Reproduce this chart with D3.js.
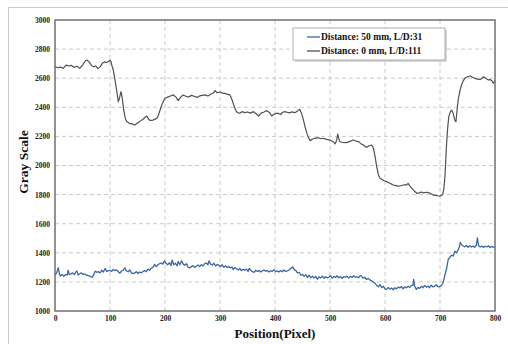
<!DOCTYPE html>
<html><head><meta charset="utf-8">
<script src="https://cdn.jsdelivr.net/npm/d3@7"></script>
<style>body{margin:0;background:#fff}svg{display:block}</style>
</head><body>
<svg id="c" width="508" height="344"></svg>
<script>
const xTicks=[0,100,200,300,400,500,600,700,800];
const yTicks=[1000,1200,1400,1600,1800,2000,2200,2400,2600,2800,3000];
const seriesNames=["Distance: 50 mm, L/D:31","Distance: 0 mm, L/D:111"];
const grayX=[0,5,10,15,20,25,30,35,40,45,50,55,58,62,66,70,74,78,82,86,90,94,98,100,102,104,106,109,112,115,117,120,122,125,128,131,135,140,145,150,155,160,165,167,170,173,178,185,188,191,195,200,205,210,215,220,224,228,233,238,243,248,253,258,263,268,273,278,283,288,291,295,300,305,309,313,318,321,324,327,330,333,336,340,345,350,355,361,365,370,375,380,385,390,394,398,402,406,410,414,418,422,426,430,436,440,445,448,451,455,458,461,464,468,473,479,484,488,494,498,503,507,509,512,514,516,518,524,530,536,542,547,552,556,561,564,567,571,576,579,582,585,588,591,594,598,603,608,612,615,620,624,627,632,636,639,642,645,649,653,658,662,666,670,675,679,684,688,692,696,700,703,705,707,709,712,714,716,719,721,724,727,729,731,733,736,739,742,745,750,755,760,764,768,773,776,779,783,788,791,794,797,800];
const grayY=[2680,2672,2676,2668,2690,2684,2688,2676,2682,2668,2690,2718,2725,2712,2690,2678,2684,2666,2678,2702,2712,2708,2716,2725,2710,2680,2656,2590,2519,2438,2460,2507,2470,2381,2320,2300,2290,2286,2278,2292,2305,2318,2335,2340,2318,2310,2312,2324,2345,2381,2425,2462,2470,2478,2485,2470,2446,2468,2485,2476,2470,2482,2476,2468,2478,2482,2485,2478,2490,2498,2514,2500,2505,2496,2496,2490,2485,2460,2427,2395,2370,2362,2359,2370,2363,2368,2360,2370,2358,2340,2360,2368,2377,2365,2340,2352,2358,2359,2350,2366,2370,2366,2362,2368,2363,2372,2386,2360,2324,2260,2221,2190,2170,2182,2187,2191,2184,2187,2180,2176,2170,2160,2148,2170,2216,2185,2163,2158,2157,2166,2175,2168,2164,2150,2141,2130,2125,2136,2141,2118,2061,1990,1935,1912,1905,1895,1889,1880,1872,1866,1862,1858,1859,1864,1868,1866,1877,1860,1843,1825,1809,1812,1818,1812,1816,1814,1805,1797,1795,1792,1790,1795,1803,1840,1923,2152,2260,2336,2370,2381,2359,2310,2301,2380,2450,2510,2553,2580,2599,2610,2615,2605,2599,2594,2592,2598,2610,2600,2588,2590,2584,2565,2584];
const blueX=[0,3,6,8,10,13,16,19,22,24,26,29,32,35,38,40,42,45,48,51,54,57,60,63,66,68,71,73,76,79,82,85,88,91,94,97,100,103,106,109,112,115,118,121,124,127,130,133,136,139,142,145,148,151,154,157,160,163,166,169,172,175,178,181,184,187,190,193,196,199,202,205,208,211,213,216,219,222,224,227,230,233,236,239,242,245,248,251,254,257,260,263,266,269,272,275,278,280,283,286,289,292,295,298,301,304,307,310,313,316,319,322,324,327,330,333,336,339,342,345,348,351,353,356,359,362,365,368,371,374,377,380,383,386,389,392,395,398,401,404,407,410,413,416,419,422,425,428,432,435,438,441,444,447,450,453,456,459,462,465,468,471,474,477,480,483,486,489,492,495,498,501,504,507,510,513,516,519,522,525,528,531,534,537,540,543,546,549,552,555,557,560,563,566,570,573,576,579,582,585,588,591,594,597,600,603,606,609,612,615,618,621,624,627,630,633,636,639,642,645,648,651,652,654,657,660,663,666,669,672,675,678,681,684,687,690,693,696,699,702,704,706,709,712,715,718,721,724,727,730,733,735,737,740,743,745,748,751,754,757,760,763,766,768,770,773,776,779,782,785,788,791,794,797,800];
const blueY=[1246,1262,1297,1255,1240,1252,1238,1250,1246,1280,1250,1255,1262,1250,1270,1274,1248,1256,1262,1250,1255,1246,1244,1240,1234,1232,1255,1274,1266,1270,1262,1280,1268,1292,1272,1276,1280,1272,1285,1278,1283,1270,1260,1275,1280,1297,1275,1270,1282,1262,1257,1262,1270,1258,1268,1262,1272,1278,1270,1288,1280,1295,1300,1320,1305,1318,1325,1330,1322,1345,1326,1318,1332,1312,1350,1318,1328,1310,1340,1318,1345,1322,1315,1325,1300,1297,1305,1312,1300,1308,1316,1305,1318,1310,1325,1330,1318,1345,1322,1316,1328,1310,1320,1314,1305,1318,1300,1312,1298,1306,1296,1302,1285,1298,1290,1282,1292,1278,1286,1280,1288,1272,1292,1280,1270,1266,1280,1272,1278,1268,1276,1282,1274,1278,1268,1276,1272,1284,1270,1276,1268,1278,1270,1282,1272,1275,1280,1290,1303,1284,1278,1262,1266,1246,1252,1238,1250,1230,1246,1228,1240,1226,1238,1218,1235,1228,1240,1225,1236,1228,1232,1242,1226,1238,1230,1242,1228,1238,1225,1236,1232,1240,1226,1238,1230,1242,1232,1236,1228,1244,1241,1226,1232,1218,1223,1212,1206,1200,1190,1176,1166,1182,1160,1170,1152,1149,1162,1150,1158,1146,1160,1152,1164,1159,1168,1152,1166,1160,1170,1162,1176,1177,1218,1170,1149,1162,1156,1170,1160,1176,1164,1172,1160,1178,1166,1170,1180,1168,1166,1175,1185,1200,1248,1292,1356,1368,1384,1378,1411,1400,1420,1440,1471,1452,1445,1441,1450,1438,1448,1440,1446,1438,1452,1503,1450,1440,1446,1436,1445,1440,1448,1436,1444,1438,1441];
const colors=["#3c67a3","#505050"];

const svg=d3.select("#c");
const L=55,R=495,T=20,B=311;
const x=d3.scaleLinear().domain([0,800]).range([L,R]);
const y=d3.scaleLinear().domain([1000,3000]).range([B,T]);
const font="'Liberation Serif','Times New Roman',serif";

// outer frame
svg.append("path").attr("d","M8.5,344 V7.5 H508").attr("fill","none").attr("stroke","#c8c8c8").attr("stroke-width",1);

// grid
const g=svg.append("g");
g.selectAll(".gx").data(xTicks.filter(d=>d>0&&d<800)).enter().append("line")
 .attr("x1",d=>x(d)).attr("x2",d=>x(d)).attr("y1",T).attr("y2",B)
 .attr("stroke","#bdbdbd").attr("stroke-dasharray","4,3").attr("stroke-width",0.8);
g.selectAll(".gy").data(yTicks.filter(d=>d>1000&&d<3000)).enter().append("line")
 .attr("y1",d=>y(d)).attr("y2",d=>y(d)).attr("x1",L).attr("x2",R)
 .attr("stroke","#bdbdbd").attr("stroke-dasharray","4,3").attr("stroke-width",0.8);

// lines
const line=d3.line().x(d=>x(d[0])).y(d=>y(d[1])).curve(d3.curveLinear);
const blue=blueX.map((v,i)=>[v,blueY[i]]);
const gray=grayX.map((v,i)=>[v,grayY[i]]);
svg.append("path").datum(blue).attr("d",line).attr("fill","none").attr("stroke",colors[0]).attr("stroke-width",1.3).attr("stroke-linejoin","round");
svg.append("path").datum(gray).attr("d",line).attr("fill","none").attr("stroke",colors[1]).attr("stroke-width",1.2).attr("stroke-linejoin","round");

// plot frame
svg.append("rect").attr("x",L).attr("y",T).attr("width",R-L).attr("height",B-T)
 .attr("fill","none").attr("stroke","#707070").attr("stroke-width",1.5);

// axes
const ax=svg.append("g").attr("transform",`translate(0,${B})`).call(d3.axisBottom(x).tickValues(xTicks).tickSize(0).tickPadding(5).tickFormat(d3.format("d")));
const ay=svg.append("g").attr("transform",`translate(${L},0)`).call(d3.axisLeft(y).tickValues(yTicks).tickSize(0).tickPadding(5).tickFormat(d3.format("d")));
[ax,ay].forEach(a=>{a.select(".domain").remove();a.selectAll("text").attr("font-family",font).attr("font-weight","bold").attr("font-size","7.5px").attr("fill","#222");});

// titles
svg.append("text").attr("x",(L+R)/2).attr("y",338).attr("text-anchor","middle")
 .attr("font-family",font).attr("font-weight","bold").attr("font-size","13px").attr("fill","#111").text("Position(Pixel)");
svg.append("text").attr("transform",`translate(28,162) rotate(-90)`).attr("text-anchor","middle")
 .attr("font-family",font).attr("font-weight","bold").attr("font-size","13.5px").attr("fill","#111").text("Gray Scale");

// legend
const lg=svg.append("g");
lg.append("rect").attr("x",295).attr("y",30).attr("width",152).attr("height",32).attr("fill","#d8d8d8");
lg.append("rect").attr("x",293).attr("y",28).attr("width",152).attr("height",32).attr("fill","#fff").attr("stroke","#9a9a9a").attr("stroke-width",0.8);
seriesNames.forEach((n,i)=>{
  const yy=37+i*14;
  lg.append("line").attr("x1",307).attr("x2",320).attr("y1",yy).attr("y2",yy).attr("stroke",colors[i]).attr("stroke-width",1.3);
  lg.append("text").attr("x",321).attr("y",yy).attr("dy","0.35em").attr("font-family",font).attr("font-weight","bold").attr("font-size","9.5px").attr("fill","#111").text(n);
});
</script>
</body></html>
